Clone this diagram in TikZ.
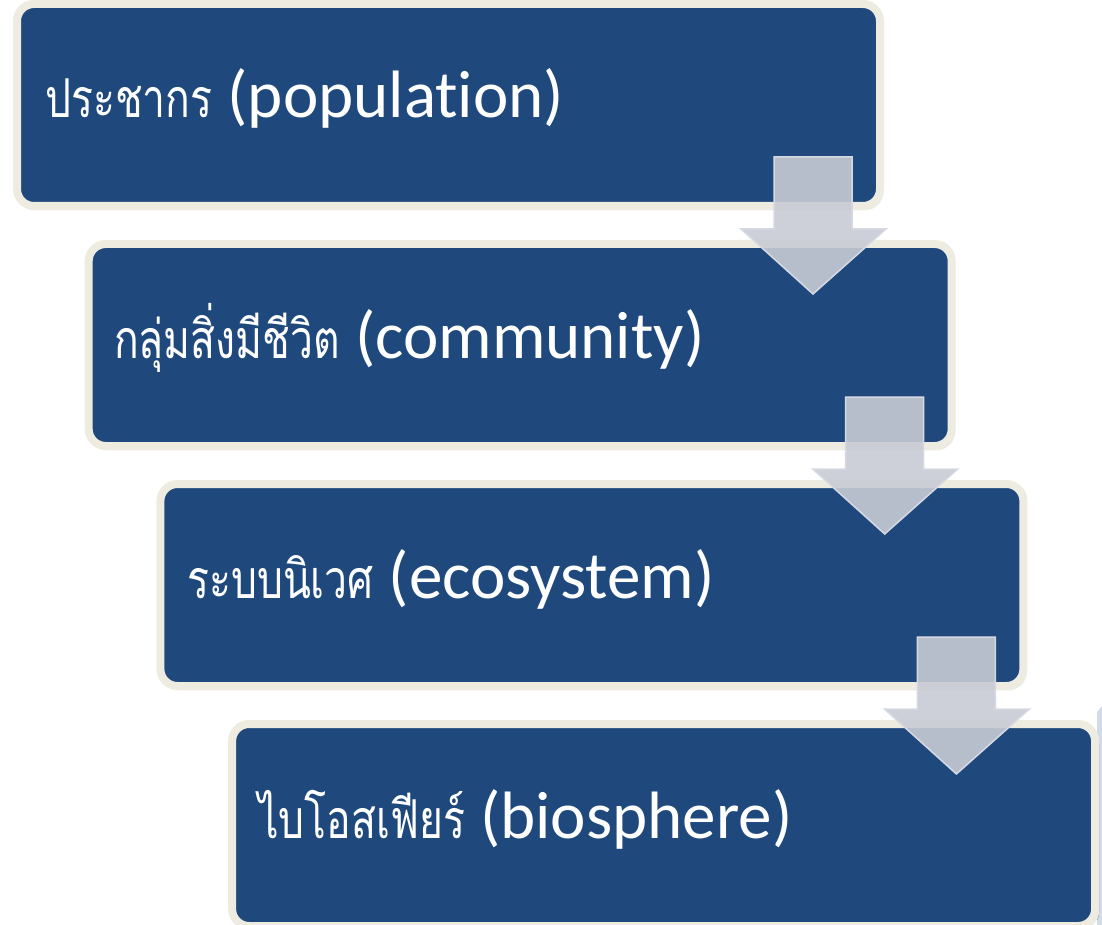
\documentclass[tikz,border=0pt]{standalone}
\usepackage{fontspec}
\setmainfont[Ligatures={NoCommon,NoRare,NoDiscretionary}]{Carlito}
\newfontfamily\thaifont[Script=Thai]{Loma}
\usetikzlibrary{shadows.blur}
\definecolor{boxblue}{RGB}{31,73,125}
\definecolor{boxcream}{RGB}{238,236,225}
\definecolor{arrowfill}{RGB}{200,203,212}
\definecolor{arrowedge}{RGB}{214,217,226}
\definecolor{sliver}{RGB}{200,210,228}
\newcommand{\thaitext}[1]{\scalebox{0.61}[0.8]{\thaifont #1}}
\tikzset{
  levelbox/.style={draw=boxcream, line width=8pt, fill=boxblue, rounded corners=17pt,
    minimum width=863pt, minimum height=202pt, inner sep=0pt,
    blur shadow={shadow xshift=2pt, shadow yshift=-3pt, shadow blur steps=6, shadow opacity=25}},
  leveltext/.style={anchor=base west, inner sep=0pt, text=white, font=\fontsize{67}{72}\selectfont},
  downarrow/.style={fill=arrowfill, fill opacity=0.9, draw=arrowedge, line width=1.5pt, line join=miter}
}
\newcommand{\levelarrow}[2]{%
  \draw[downarrow] (774+#1,157+#2) -- (852+#1,157+#2) -- (852+#1,229+#2) -- (886+#1,229+#2)
    -- (813+#1,294+#2) -- (741+#1,229+#2) -- (774+#1,229+#2) -- cycle;}
\begin{document}
\begin{tikzpicture}[x=1pt,y=-1pt]
\useasboundingbox (0,0) rectangle (1102,925);
\fill[sliver, opacity=0.8] (1097,712) -- (1102,706) -- (1102,925) -- (1097,925) -- cycle;
\node[levelbox] (b1) at (448.5,105) {};
\node[levelbox] (b2) at (520.2,345) {};
\node[levelbox] (b3) at (591.9,585) {};
\node[levelbox] (b4) at (663.6,825) {};
\node[leveltext] (t1) at (45,118) {\thaitext{ประชากร} (population)};
\node[leveltext] (t2) at (114,358) {\thaitext{กลุ่มสิ่งมีชีวิต} (community)};
\node[leveltext] (t3) at (187,598) {\thaitext{ระบบนิเวศ} (ecosystem)};
\node[leveltext] (t4) at (258,838) {\thaitext{ไบโอสเฟียร์} (biosphere)};
\levelarrow{0}{0}
\levelarrow{71.7}{240}
\levelarrow{143.4}{480}
\end{tikzpicture}
\end{document}
